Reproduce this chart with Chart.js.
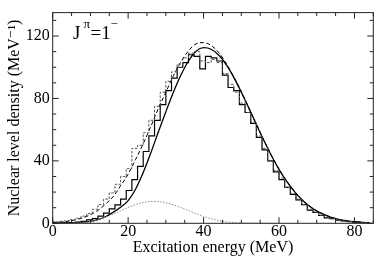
<!DOCTYPE html>
<html>
<head>
<meta charset="utf-8">
<script src="https://cdn.jsdelivr.net/npm/chart.js@4/dist/chart.umd.min.js"></script>
<style>
html,body{margin:0;padding:0;background:#fff;}
#wrap{position:relative;width:374px;height:257px;}
</style>
</head>
<body>
<div id="wrap"><canvas id="c"></canvas></div>
<script>
// ---- data ----
const curveX = [0,2,4,6,8,10,12,14,16,18,20,22,24,26,28,30,32,34,36,38,40,42,44,46,48,50,52,54,56,58,60,62,64,66,68,70,72,74,76,78,80,82,84];
const fitSolid = [0.05,0.1,0.2,0.4,0.7,1.3,2.4,4.2,7.0,10.3,14.5,22,32.5,45,58.5,71.5,84,95,104,110.3,112.5,111.5,107.8,101.6,93.5,84,73.8,63.3,53,43.3,34.6,27,20.6,15.3,11.1,7.9,5.5,3.7,2.4,1.6,1.0,0.6,0.35];
const fitDashed = [0.5,0.8,1.3,2.2,3.5,5.5,8.3,12.3,17,24,31.5,41,51,62,73.5,84,94.5,103.5,110.5,115,115.8,114,109.5,102.5,94,84.5,74,63.5,53.2,43.5,34.8,27.2,20.8,15.4,11.2,8,5.6,3.8,2.5,1.6,1.0,0.6,0.35];
const thirdX = [0,2,4,6,8,10,12,14,16,18,20,22,24,26,28,30,32,34,36,38,40,42,44,46,48,50,52,54,56,58,60];
const fitDotted = [0.02,0.05,0.15,0.3,0.6,1.2,2.3,3.9,5.9,8.0,10.2,12.0,13.3,14,13.9,13.1,11.8,10.0,8.1,6.2,4.4,2.9,1.8,1.0,0.5,0.2,0.1,0.05,0.02,0.01,0];
const binEdges = [0,1.5,3,4.5,6,7.5,9,10.5,12,13.5,15,16.5,18,19.5,21,22.5,24,25.5,27,28.5,30,31.5,33,34.5,36,37.5,39,40.5,42,43.5,45,46.5,48,49.5,51,52.5,54,55.5,57,58.5,60,61.5,63,64.5,66,67.5,69,70.5,72,73.5,75,76.5,78,79.5,81,82.5,84];
const histSolid = [0.2,0.2,0.2,0.4,0.5,0.8,1.2,2.2,3,4.6,6.5,9.2,11.8,15.5,21,28,36.5,46,56,66,76,85,93,100,103,108,107,99,107,106,104,95,87,85,76,71,64,55,47,40,33,28,23,18.5,15,12,8.5,7,5,3.5,3,2,1.5,1.0,0.7,0.4];
const histDashed = [0.6,0.9,1.2,1.6,2.3,3.2,4.6,6.2,9.0,12,15.5,19.5,25,30,35,48,50,58,66,75,84,91,97,102,106,109,110,104,103,105,103,96,89,84,77,71,65,56,48,40,34,29,23,19,15.5,12,9,7,5.2,4,3,2.2,1.5,1.1,0.7,0.4];
const xTickLabels = [0,20,40,60,80];
const yTickLabels = [0,40,80,120];

const pts = (xs, ys) => xs.map((x, i) => ({x, y: ys[i]}));
const steps = (edges, vals) => edges.map((x, i) => ({x, y: vals[Math.min(i, vals.length - 1)]}));

const SERIF = "'Liberation Serif', 'DejaVu Serif', serif";

const frameTicks = {
  id: 'frameTicks',
  afterDraw(chart) {
    const {ctx, chartArea: a, scales: {x, y}} = chart;
    ctx.save();
    ctx.strokeStyle = '#222';
    ctx.lineWidth = 1;
    ctx.strokeRect(a.left, a.top, a.right - a.left, a.bottom - a.top);
    ctx.beginPath();
    for (let v = 0; v <= 85; v += 5) {
      const px = x.getPixelForValue(v);
      const len = xTickLabels.includes(v) ? 6 : 3.5;
      ctx.moveTo(px, a.bottom); ctx.lineTo(px, a.bottom - len);
      ctx.moveTo(px, a.top); ctx.lineTo(px, a.top + len);
    }
    for (let v = 0; v <= 135; v += 10) {
      const py = y.getPixelForValue(v);
      const len = yTickLabels.includes(v) ? 6 : 3.5;
      ctx.moveTo(a.left, py); ctx.lineTo(a.left + len, py);
      ctx.moveTo(a.right, py); ctx.lineTo(a.right - len, py);
    }
    ctx.stroke();
    // annotation J^pi = 1^-
    ctx.fillStyle = '#000';
    ctx.textBaseline = 'alphabetic';
    ctx.font = "19px " + SERIF;
    ctx.fillText('J', 73, 38.5);
    ctx.font = "13px " + SERIF;
    ctx.fillText('π', 83.5, 27.5);
    ctx.font = "19px " + SERIF;
    ctx.fillText('=1', 90.5, 38.5);
    ctx.font = "13px " + SERIF;
    ctx.fillText('−', 110.5, 28);
    ctx.restore();
  }
};

new Chart(document.getElementById('c'), {
  type: 'line',
  data: {
    datasets: [
      {data: pts(thirdX, fitDotted), borderColor: '#8a8a8a', borderWidth: 1, borderDash: [1.5, 1.5], pointRadius: 0, cubicInterpolationMode: 'monotone'},
      {data: steps(binEdges, histDashed), borderColor: '#555', borderWidth: 1, borderDash: [2.5, 1.5], pointRadius: 0, stepped: 'after'},
      {data: steps(binEdges, histSolid), borderColor: '#000', borderWidth: 1.2, pointRadius: 0, stepped: 'after'},
      {data: pts(curveX, fitDashed), borderColor: '#000', borderWidth: 1, borderDash: [4, 2.5], pointRadius: 0, cubicInterpolationMode: 'monotone'},
      {data: pts(curveX, fitSolid), borderColor: '#000', borderWidth: 1.3, pointRadius: 0, cubicInterpolationMode: 'monotone'}
    ]
  },
  options: {
    responsive: true,
    maintainAspectRatio: false,
    animation: false,
    devicePixelRatio: 1,
    layout: {padding: {top: 1.7, right: 0.7, left: 0, bottom: 0}},
    plugins: {legend: {display: false}, tooltip: {enabled: false}},
    scales: {
      x: {
        type: 'linear', min: 0, max: 85,
        grid: {display: false, drawTicks: false},
        border: {display: false},
        ticks: {
          stepSize: 5, autoSkip: false, maxRotation: 0, padding: 0,
          color: '#000', font: {family: SERIF, size: 16, lineHeight: 1},
          callback: v => xTickLabels.includes(v) ? String(v) : ''
        },
        title: {display: true, text: 'Excitation energy (MeV)', color: '#000', font: {family: SERIF, size: 16, lineHeight: 1.2}, padding: {top: 0, bottom: 0}},
        afterFit(s) { s.height = 33.7; }
      },
      y: {
        type: 'linear', min: 0, max: 135,
        grid: {display: false, drawTicks: false},
        border: {display: false},
        ticks: {
          stepSize: 10, autoSkip: false, padding: 3,
          color: '#000', font: {family: SERIF, size: 16},
          callback: v => yTickLabels.includes(v) ? String(v) : ''
        },
        title: {display: true, text: 'Nuclear level density (MeV⁻¹)', color: '#000', font: {family: SERIF, size: 16, lineHeight: 1.2}, padding: {top: 5, bottom: 0}},
        afterFit(s) { s.width = 52.7; }
      }
    }
  },
  plugins: [frameTicks]
});
</script>
</body>
</html>
